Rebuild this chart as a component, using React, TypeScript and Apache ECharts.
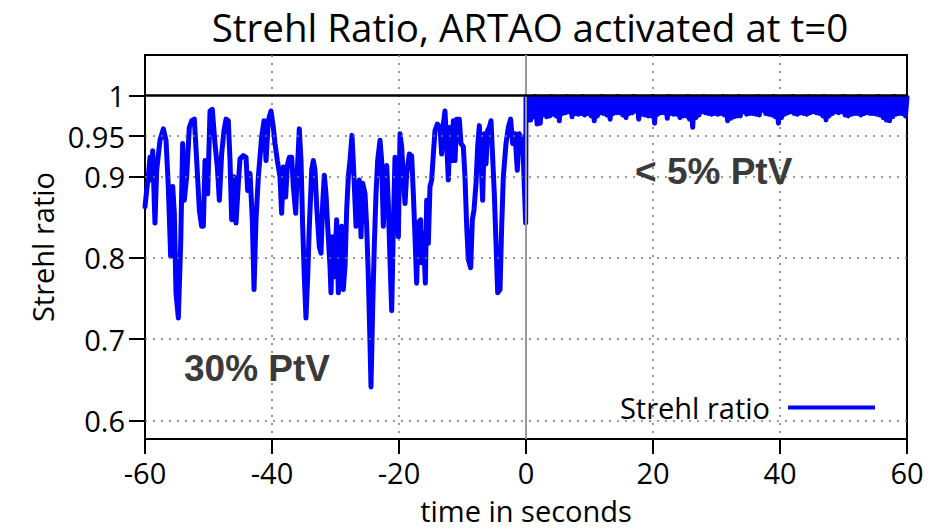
import { useEffect, useRef } from "react";
import * as echarts from "echarts";

// ---- data ----
const yTickValues = [0.6, 0.7, 0.8, 0.9, 0.95, 1];
const yGridValues = [0.6, 0.7, 0.8, 0.9, 0.95];

// Strehl ratio before activation: [time s, ratio]
const beforeActivation: [number, number][] = [
  [-60.0, 0.863], [-59.74, 0.883], [-59.48, 0.9], [-59.21, 0.924], [-58.95, 0.896], [-58.79, 0.932],
  [-58.43, 0.843], [-58.16, 0.908], [-57.64, 0.945], [-57.11, 0.959], [-56.69, 0.945], [-56.33, 0.888],
  [-55.96, 0.802], [-55.64, 0.888], [-55.38, 0.855], [-55.12, 0.757], [-54.75, 0.726], [-54.38, 0.818],
  [-54.07, 0.941], [-53.81, 0.871], [-53.44, 0.9], [-53.02, 0.961], [-52.65, 0.969], [-52.23, 0.971],
  [-51.86, 0.92], [-51.44, 0.859], [-51.08, 0.839], [-50.81, 0.839], [-50.55, 0.92], [-50.13, 0.879],
  [-49.76, 0.981], [-49.4, 0.983], [-48.98, 0.941], [-48.61, 0.912], [-48.29, 0.871], [-47.93, 0.928],
  [-47.56, 0.957], [-47.24, 0.971], [-46.88, 0.969], [-46.61, 0.92], [-46.35, 0.847], [-45.98, 0.9],
  [-45.67, 0.843], [-45.3, 0.892], [-45.04, 0.922], [-44.51, 0.926], [-44.09, 0.924], [-43.83, 0.883],
  [-43.46, 0.904], [-43.1, 0.847], [-42.83, 0.761], [-42.52, 0.847], [-42.15, 0.9], [-41.63, 0.949],
  [-41.26, 0.969], [-40.94, 0.92], [-40.58, 0.969], [-40.16, 0.981],
  [-39.79, 0.961], [-39.53, 0.941], [-39.16, 0.92], [-38.74, 0.9], [-38.48, 0.855], [-38.22, 0.912],
  [-37.85, 0.875], [-37.59, 0.914], [-37.27, 0.924], [-36.9, 0.924], [-36.64, 0.888], [-36.27, 0.855],
  [-36.01, 0.908], [-35.7, 0.959], [-35.43, 0.92], [-35.17, 0.839], [-34.91, 0.777], [-34.65, 0.726],
  [-34.38, 0.777], [-34.12, 0.839], [-33.75, 0.908], [-33.49, 0.92], [-33.23, 0.908], [-32.96, 0.863],
  [-32.55, 0.814], [-32.28, 0.806], [-32.02, 0.867], [-31.76, 0.902], [-31.5, 0.879], [-31.23, 0.839],
  [-30.87, 0.79], [-30.71, 0.757], [-30.45, 0.826], [-30.18, 0.777], [-29.82, 0.847], [-29.55, 0.757],
  [-29.29, 0.835], [-29.03, 0.839], [-28.77, 0.761], [-28.5, 0.79], [-28.24, 0.859], [-27.98, 0.9],
  [-27.72, 0.92], [-27.4, 0.951], [-27.09, 0.9], [-26.77, 0.839], [-26.51, 0.879], [-26.25, 0.896],
  [-25.98, 0.826], [-25.72, 0.892], [-25.35, 0.879], [-25.09, 0.839], [-24.83, 0.777], [-24.57, 0.696],
  [-24.41, 0.641], [-24.15, 0.737], [-23.88, 0.818], [-23.62, 0.879], [-23.36, 0.92], [-22.99, 0.945],
  [-22.73, 0.92], [-22.47, 0.839], [-22.21, 0.879], [-21.94, 0.914], [-21.68, 0.867], [-21.42, 0.798],
  [-21.15, 0.735], [-20.89, 0.839], [-20.63, 0.924], [-20.37, 0.9], [-20.1, 0.826], [-19.84, 0.953],
  [-19.58, 0.937], [-19.32, 0.9], [-19.05, 0.867],
  [-18.79, 0.904], [-18.37, 0.928], [-18.01, 0.926], [-17.74, 0.879], [-17.48, 0.826], [-17.22, 0.769],
  [-16.96, 0.843], [-16.59, 0.847], [-16.43, 0.794], [-16.17, 0.83], [-15.85, 0.769], [-15.64, 0.871],
  [-15.38, 0.818], [-15.12, 0.888], [-14.86, 0.896], [-14.59, 0.928], [-14.33, 0.957], [-13.96, 0.965],
  [-13.54, 0.961], [-13.28, 0.928], [-13.02, 0.965], [-12.76, 0.981], [-12.49, 0.941], [-12.23, 0.896],
  [-11.97, 0.961], [-11.71, 0.92], [-11.44, 0.969], [-11.18, 0.92], [-10.92, 0.971], [-10.5, 0.971],
  [-10.24, 0.941], [-9.87, 0.937], [-9.61, 0.9], [-9.34, 0.839], [-9.08, 0.798], [-8.71, 0.788],
  [-8.45, 0.847], [-8.19, 0.859], [-7.87, 0.892], [-7.61, 0.937], [-7.35, 0.963], [-7.09, 0.924],
  [-6.83, 0.871], [-6.56, 0.953], [-6.3, 0.916], [-6.04, 0.957], [-5.77, 0.961], [-5.51, 0.969],
  [-5.25, 0.924], [-4.99, 0.879], [-4.72, 0.818], [-4.46, 0.757], [-4.09, 0.761], [-3.83, 0.839],
  [-3.57, 0.9], [-3.15, 0.941], [-2.78, 0.961], [-2.42, 0.971], [-2.1, 0.941], [-1.73, 0.953],
  [-1.37, 0.908], [-1.06, 0.953], [-0.79, 0.932], [-0.53, 0.949], [-0.32, 0.9], [-0.05, 0.843],
];

// After activation the ratio flickers rapidly; samples every 0.25 s alternate between
// the upper readings (t = 0, 0.5, 1, ...) and the lower readings (t = 0.25, 0.75, ...)
const afterStep = 0.5;
const afterUpper: number[] = [
  0.998, 0.997, 0.998, 0.999, 0.998, 0.997, 0.998, 0.998, 0.999, 0.998,
  0.997, 0.998, 0.998, 0.999, 0.998, 0.998, 0.997, 0.998, 0.999, 0.998,
  0.998, 0.997, 0.998, 0.998, 0.999, 0.998, 0.997, 0.998, 0.998, 0.999,
  0.998, 0.998, 0.997, 0.998, 0.999, 0.998, 0.998, 0.997, 0.998, 0.998,
  0.999, 0.998, 0.997, 0.998, 0.998, 0.999, 0.998, 0.998, 0.997, 0.998,
  0.998, 0.999, 0.998, 0.997, 0.998, 0.998, 0.999, 0.998, 0.998, 0.997,
  0.998, 0.998, 0.999, 0.998, 0.997, 0.998, 0.998, 0.999, 0.998, 0.998,
  0.997, 0.998, 0.998, 0.999, 0.998, 0.998, 0.997, 0.998, 0.999, 0.998,
  0.998, 0.997, 0.998, 0.998, 0.999, 0.998, 0.997, 0.998, 0.998, 0.999,
  0.998, 0.998, 0.997, 0.998, 0.999, 0.998, 0.998, 0.997, 0.998, 0.998,
  0.999, 0.998, 0.997, 0.998, 0.998, 0.999, 0.998, 0.998, 0.997, 0.998,
  0.998, 0.999, 0.998, 0.997, 0.998, 0.998, 0.999, 0.998, 0.998, 0.997,
  0.998,
];
const afterLower: number[] = [
  0.970, 0.970, 0.974, 0.965, 0.966, 0.976, 0.974, 0.975, 0.977, 0.975,
  0.969, 0.978, 0.979, 0.980, 0.974, 0.978, 0.977, 0.978, 0.976, 0.978,
  0.975, 0.969, 0.975, 0.979, 0.978, 0.976, 0.971, 0.978, 0.979, 0.979,
  0.976, 0.973, 0.978, 0.979, 0.981, 0.971, 0.977, 0.976, 0.975, 0.975,
  0.966, 0.977, 0.979, 0.979, 0.972, 0.978, 0.977, 0.977, 0.973, 0.975,
  0.975, 0.971, 0.961, 0.973, 0.976, 0.980, 0.979, 0.978, 0.977, 0.978,
  0.977, 0.978, 0.976, 0.969, 0.972, 0.974, 0.975, 0.975, 0.980, 0.977,
  0.978, 0.978, 0.977, 0.976, 0.982, 0.978, 0.977, 0.976, 0.974, 0.966,
  0.973, 0.977, 0.979, 0.980, 0.978, 0.977, 0.979, 0.978, 0.977, 0.979,
  0.980, 0.979, 0.978, 0.975, 0.970, 0.975, 0.978, 0.980, 0.979, 0.980,
  0.976, 0.975, 0.977, 0.978, 0.978, 0.976, 0.978, 0.979, 0.978, 0.978,
  0.977, 0.976, 0.973, 0.970, 0.969, 0.974, 0.977, 0.978, 0.978, 0.975,
];

const annotations = [
  { text: "< 5% PtV", left: 635, top: 153 },
  { text: "30% PtV", left: 184, top: 350 },
];

function buildSeriesData(): [number, number][] {
  const out: [number, number][] = beforeActivation.map((p) => [p[0], p[1]]);
  for (let i = 0; i < afterUpper.length; i++) {
    out.push([i * afterStep, afterUpper[i]]);
    if (i < afterLower.length) out.push([i * afterStep + afterStep / 2, afterLower[i]]);
  }
  return out;
}

const FONT = "'Open Sans', 'Noto Sans', sans-serif";

export default function App() {
  const ref = useRef<HTMLDivElement>(null);
  useEffect(() => {
    if (!ref.current) return;
    const chart = echarts.init(ref.current, null, { renderer: "svg" });
    const dotted = { color: "#777", width: 1.5, type: [2, 6] as number[] };
    chart.setOption({
      animation: false,
      backgroundColor: "#ffffff",
      textStyle: { fontFamily: FONT },
      title: {
        text: "Strehl Ratio, ARTAO activated at t=0",
        left: 525,
        top: 2,
        textAlign: "center",
        textStyle: { fontSize: 38.5, fontWeight: "normal", color: "#000", fontFamily: FONT },
      },
      grid: {
        left: 145,
        right: 39,
        top: 55,
        bottom: 88,
        show: true,
        borderColor: "#000",
        borderWidth: 2,
        backgroundColor: "transparent",
      },
      legend: {
        data: ["Strehl ratio"],
        right: 71,
        top: 393,
        align: "right",
        icon: "rect",
        itemWidth: 87,
        itemHeight: 4,
        padding: 0,
        textStyle: { fontSize: 29, color: "#000", fontFamily: FONT, padding: [0, 13, 0, 0] },
      },
      xAxis: {
        type: "value",
        min: -60,
        max: 60,
        interval: 20,
        name: "time in seconds",
        nameLocation: "middle",
        nameGap: 57,
        nameTextStyle: { fontSize: 29, color: "#000", fontFamily: FONT },
        axisLine: { show: true, onZero: false, lineStyle: { color: "#000", width: 2 } },
        axisTick: { show: true, inside: false, length: 15, lineStyle: { color: "#000", width: 2 } },
        axisLabel: { fontSize: 29, color: "#000", margin: 19, fontFamily: FONT },
        splitLine: { show: true, showMinLine: false, showMaxLine: false, lineStyle: dotted },
      },
      yAxis: {
        type: "value",
        min: 0.577,
        max: 1.05,
        name: "Strehl ratio",
        nameLocation: "middle",
        nameGap: 85,
        nameTextStyle: { fontSize: 29, color: "#000", fontFamily: FONT },
        axisLine: { show: true, onZero: false, lineStyle: { color: "#000", width: 2 } },
        axisTick: {
          show: true,
          inside: false,
          length: 16,
          customValues: yTickValues,
          lineStyle: { color: "#000", width: 2 },
        },
        axisLabel: {
          customValues: yTickValues,
          fontSize: 29,
          color: "#000",
          margin: 20,
          fontFamily: FONT,
          formatter: (v: number) => String(parseFloat(Number(v).toFixed(2))),
        },
        splitLine: { show: false },
      },
      graphic: annotations.map((a) => ({
        type: "text",
        left: a.left,
        top: a.top,
        z: 10,
        style: {
          text: a.text,
          fontSize: 37,
          fontWeight: "bold",
          fontFamily: "'Liberation Sans', Arial, sans-serif",
          fill: "#3a3a3a",
        },
      })),
      series: [
        {
          name: "grid",
          type: "line",
          data: [],
          z: 1,
          silent: true,
          markLine: {
            silent: true,
            symbol: ["none", "none"],
            label: { show: false },
            lineStyle: dotted,
            data: [
              ...yGridValues.map((v) => ({ yAxis: v })),
              { xAxis: 0, lineStyle: { color: "#999", width: 2, type: "solid" } },
            ],
          },
        },
        {
          name: "Strehl ratio",
          type: "line",
          data: buildSeriesData(),
          showSymbol: false,
          symbol: "none",
          z: 3,
          color: "#0000ff",
          lineStyle: { color: "#0000ff", width: 5, join: "round", cap: "round" },
          itemStyle: { color: "#0000ff" },
        },
        {
          name: "unity",
          type: "line",
          data: [],
          z: 5,
          silent: true,
          markLine: {
            silent: true,
            symbol: ["none", "none"],
            label: { show: false },
            lineStyle: { color: "#000", width: 2.5, type: "solid" },
            data: [{ yAxis: 1 }],
          },
        },
      ],
    });
    return () => chart.dispose();
  }, []);
  return (
    <div
      ref={ref}
      style={{ position: "fixed", left: 0, top: 0, width: 946, height: 530, background: "#fff" }}
    />
  );
}
